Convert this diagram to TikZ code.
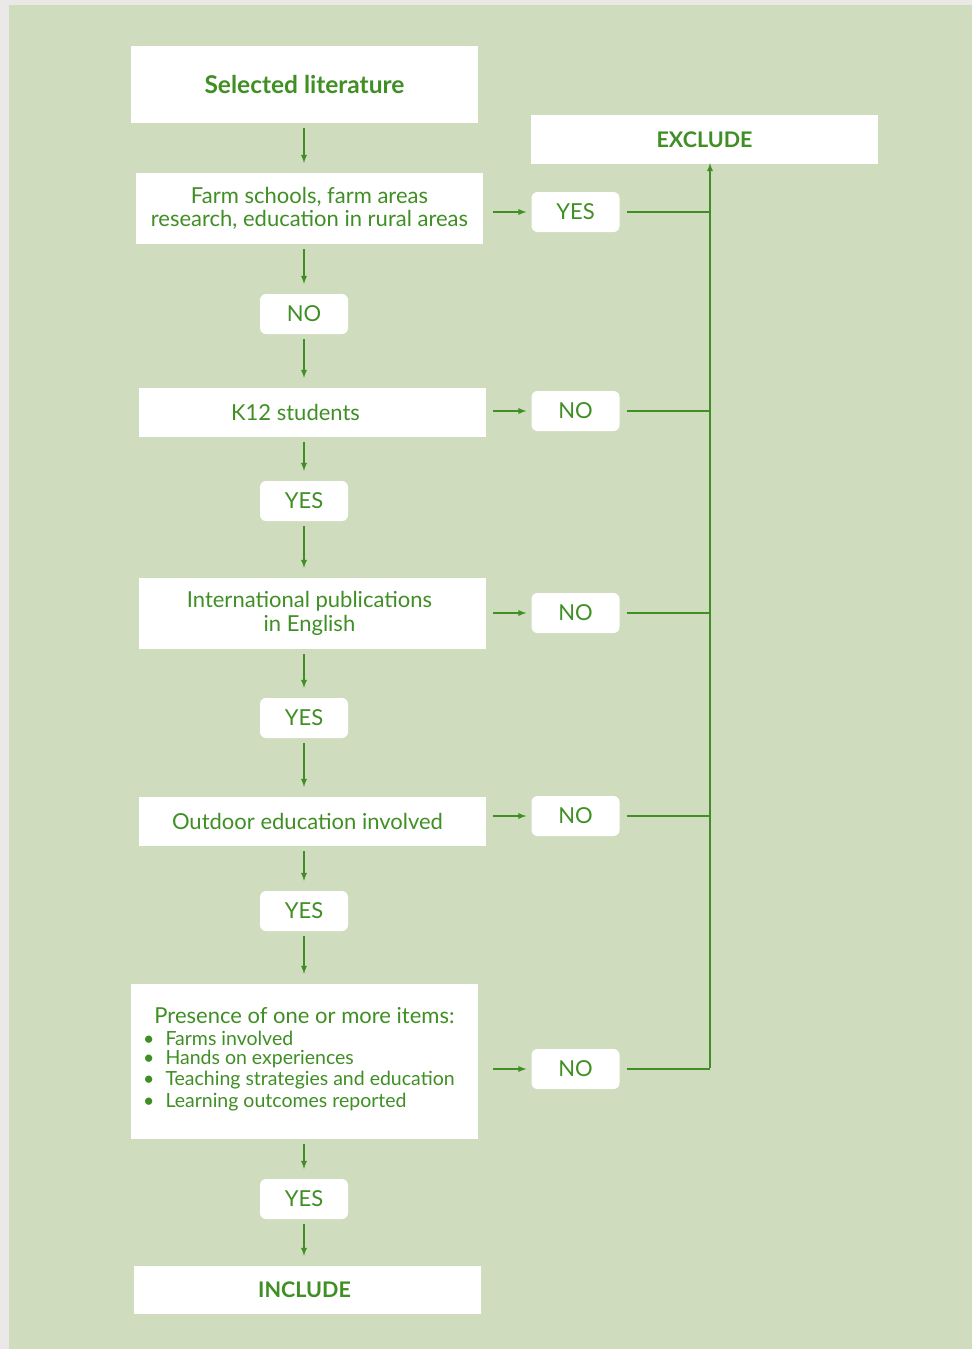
\documentclass[tikz,border=0pt]{standalone}
\usepackage{fontspec}
\setmainfont{Lato}
\usepackage{pgf,tikz}
\usetikzlibrary{arrows,shapes,positioning}
\definecolor{leaf}{HTML}{3F8F24}
\definecolor{meadow}{HTML}{CFDCBD}
\definecolor{margin}{HTML}{EBE9E7}
\tikzstyle{stage}=[fill=white,text=leaf,minimum width=347pt,inner sep=0pt,align=center,font=\fontsize{22}{24}\selectfont]
\tikzstyle{verdict}=[stage,font=\fontsize{21.5}{24}\bfseries\selectfont]
\tikzstyle{answer}=[fill=white,text=leaf,rounded corners=6pt,minimum width=88pt,minimum height=40pt,inner sep=0pt,font=\fontsize{22}{24}\selectfont]
\tikzstyle{flow}=[draw=leaf,line width=1.7pt,-latex]
\tikzstyle{rail}=[draw=leaf,line width=1.7pt]
\tikzstyle{item}=[text=leaf,anchor=west,inner sep=0pt,font=\fontsize{19.5}{21}\selectfont]

\begin{document}
\begin{tikzpicture}[x=1pt,y=-1pt]
    \useasboundingbox (0,0) rectangle (972,1349);
    \fill[margin] (0,0) rectangle (972,1349);
    \fill[meadow] (9,5) rectangle (972,1349);
    % main column
    \node[verdict,minimum height=77pt,font=\fontsize{24.5}{26}\bfseries\selectfont] (selected) at (304.5,84.5) {Selected literature};
    \node[stage,minimum height=71pt] (farm) at (309.5,208.5) {\raisebox{-1pt}{Farm schools, farm areas}\\research, education in rural areas};
    \node[stage,minimum height=49pt] (k12) at (312.5,412.5) {\hspace*{-34pt}\raisebox{-1pt}{K12 students}};
    \node[stage,minimum height=71pt] (intl) at (312.5,613.5) {\hspace*{-6pt}International publications\\\hspace*{-6pt}in English};
    \node[stage,minimum height=49pt] (outdoor) at (312.5,821.5) {\hspace*{-10pt}\raisebox{-4pt}{Outdoor education involved}};
    \node[stage,minimum height=155pt] (presence) at (304.5,1061.5) {};
    \node[verdict,minimum height=48pt] (include) at (307.5,1290) {\hspace*{-6pt}INCLUDE};
    \node[verdict,minimum height=49pt] (exclude) at (704.5,139.5) {EXCLUDE};
    \node[text=leaf,inner sep=0pt,font=\fontsize{22}{24}\selectfont] (head) at (304.5,1016) {Presence of one or more items:};
    \foreach \y/\txt in {1038/Farms involved, 1059/Hands on experiences, 1080/Teaching strategies and education, 1102/Learning outcomes reported}
        \node[item] (item\y) at (143,\y) {\textbullet\hspace{11pt}\txt};
    % answers down the column
    \foreach \name/\y/\txt in {a1/314/NO, a2/501/YES, a3/718/YES, a4/911/YES, a5/1199/YES}
        \node[answer] (\name) at (304,\y) {\txt};
    % answers to the right
    \foreach \name/\y/\txt in {r1/212/YES, r2/411/NO, r3/613/NO, r4/816/NO, r5/1069/NO}
        \node[answer] (\name) at (575.5,\y) {\txt};
    \coordinate (bend) at (710,1069);
    % vertical arrows
    \foreach \a/\b in {selected/farm, farm/a1, a1/k12, k12/a2, a2/intl, intl/a3, a3/outdoor, outdoor/a4, a4/presence, presence/a5, a5/include}
        \path[flow,shorten <=5pt,shorten >=10pt] (\a.south -| a1) -- (\b.north -| a1);
    % arrows to the right
    \foreach \a/\b in {farm/r1, k12/r2, intl/r3, outdoor/r4, presence/r5}
        \path[flow,shorten >=5pt] ([xshift=-38pt]\b.west) -- (\b.west);
    \foreach \b in {r1,r2,r3,r4,r5}
        \path[rail] ([xshift=7pt]\b.east) -- (\b -| bend);
    \path[flow] ([yshift=0.8pt]bend) -- ([yshift=1pt]bend |- exclude.south);
\end{tikzpicture}
\end{document}
